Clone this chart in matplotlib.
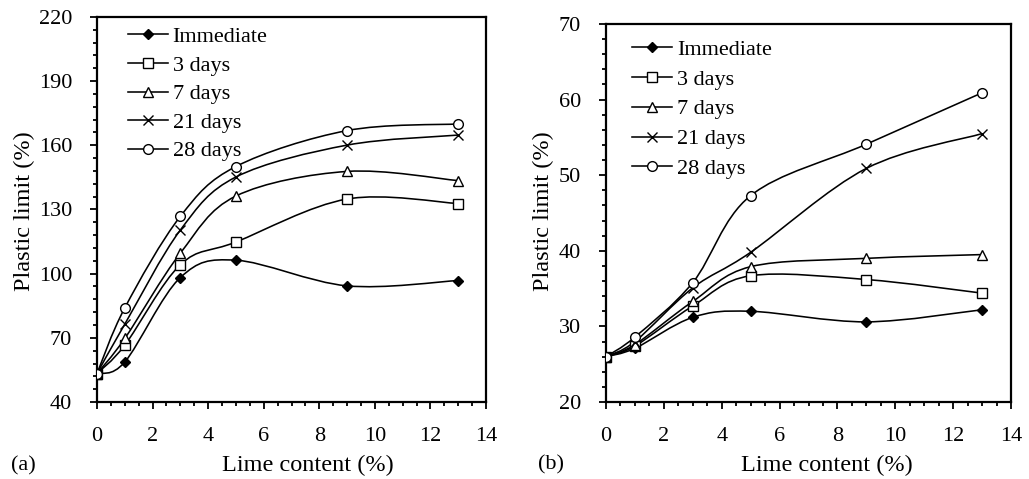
import numpy as np
import matplotlib
matplotlib.use("Agg")
import matplotlib.pyplot as plt
from matplotlib.path import Path
from matplotlib.patches import PathPatch
from matplotlib.lines import Line2D
from matplotlib.ticker import MultipleLocator, FixedLocator

plt.rcParams['font.family'] = ['Liberation Serif', 'DejaVu Serif']

# lime content (%)
lime = [0, 1, 3, 5, 9, 13]
series_names = ["Immediate", "3 days", "7 days", "21 days", "28 days"]

# plastic limit (%) - soil (a)
pl_a_immediate = [53.3, 58.7, 98.2, 106.3, 94.3, 96.8]
pl_a_3days = [53.3, 66.6, 104.2, 114.8, 134.9, 132.8]
pl_a_7days = [53.3, 69.7, 109.6, 136.3, 147.8, 143.5]
pl_a_21days = [53.3, 76.4, 120.4, 145.2, 160.1, 164.8]
pl_a_28days = [53.3, 84.0, 126.8, 150.1, 166.9, 170.0]

# plastic limit (%) - soil (b)
pl_b_immediate = [26.0, 27.1, 31.2, 32.0, 30.6, 32.2]
pl_b_3days = [26.0, 27.4, 32.7, 36.7, 36.2, 34.4]
pl_b_7days = [26.0, 27.6, 33.3, 37.9, 39.0, 39.5]
pl_b_21days = [26.0, 28.0, 35.1, 39.8, 50.9, 55.5]
pl_b_28days = [26.0, 28.6, 35.8, 47.3, 54.1, 60.9]

markers = [
    dict(marker='D', markersize=5.5, markerfacecolor='black'),
    dict(marker='s', markersize=6.5, markerfacecolor='white'),
    dict(marker='^', markersize=7, markerfacecolor='white'),
    dict(marker='x', markersize=6.5, markerfacecolor='white'),
    dict(marker='o', markersize=7, markerfacecolor='white'),
]

LW = 1.15


def smooth_path(x, y):
    # Bezier curve through the points (Catmull-Rom style control points)
    pts = np.column_stack([x, y]).astype(float)
    n = len(pts)
    verts = [pts[0]]
    codes = [Path.MOVETO]
    for i in range(n - 1):
        p0 = pts[i - 1] if i > 0 else pts[i]
        p1 = pts[i]
        p2 = pts[i + 1]
        p3 = pts[i + 2] if i + 2 < n else pts[i + 1]
        c1 = p1 + (p2 - p0) / 6.0
        c2 = p2 - (p3 - p1) / 6.0
        verts += [c1, c2, p2]
        codes += [Path.CURVE4] * 3
    return Path(verts, codes)


def draw_panel(ax, data, ymin, ymax, ymajor, yminor, leg_anchor, leg_spacing):
    for vals, mk in zip(data, markers):
        ax.add_patch(PathPatch(smooth_path(lime, vals), facecolor='none',
                               edgecolor='black', lw=LW, zorder=2))
        ax.plot(lime, vals, ls='none', color='black', markeredgecolor='black',
                markeredgewidth=1.0, zorder=3, **mk)

    ax.set_xlim(0, 14)
    ax.set_ylim(ymin, ymax)
    ax.xaxis.set_major_locator(MultipleLocator(2))
    ax.xaxis.set_minor_locator(MultipleLocator(0.5))
    ax.yaxis.set_major_locator(FixedLocator(np.arange(ymin, ymax + 0.1, ymajor)))
    ax.yaxis.set_minor_locator(FixedLocator(np.arange(ymin, ymax + 0.1, yminor)))
    ax.tick_params(which='major', direction='out', length=5, width=1.3,
                   labelsize=16, pad=13)
    ax.tick_params(which='minor', direction='out', length=3, width=1.3)
    for s in ax.spines.values():
        s.set_linewidth(1.6)

    handles = [Line2D([], [], color='black', lw=LW, markeredgecolor='black',
                      markeredgewidth=1.0, **mk) for mk in markers]
    ax.legend(handles, series_names, loc='upper left', bbox_to_anchor=leg_anchor,
              frameon=False, fontsize=16, handlelength=1.8, handletextpad=0.2,
              labelspacing=leg_spacing, borderaxespad=0, borderpad=0)


fig = plt.figure(figsize=(10.29, 4.79), dpi=100)
ax_a = fig.add_axes([97 / 1029, 77 / 479, 389 / 1029, 385 / 479])
ax_b = fig.add_axes([606 / 1029, 77 / 479, 405 / 1029, 378 / 479])

draw_panel(ax_a, [pl_a_immediate, pl_a_3days, pl_a_7days, pl_a_21days, pl_a_28days],
           40, 220, 30, 6, (0.08, 0.975), 0.36)
draw_panel(ax_b, [pl_b_immediate, pl_b_3days, pl_b_7days, pl_b_21days, pl_b_28days],
           20, 70, 10, 2, (0.065, 0.96), 0.42)

for xc in (308, 827):
    fig.text(xc / 1029, 14 / 479, "Lime content (%)", ha='center', va='center', fontsize=17.5)
for xc in (24, 543):
    fig.text(xc / 1029, 268 / 479, "Plastic limit (%)", ha='center', va='center',
             rotation=90, fontsize=17.5)
fig.text(23 / 1029, 13 / 479, "(a)", ha='center', va='center', fontsize=16)
fig.text(551 / 1029, 14 / 479, "(b)", ha='center', va='center', fontsize=16)

fig.savefig("out.png", dpi=100)
